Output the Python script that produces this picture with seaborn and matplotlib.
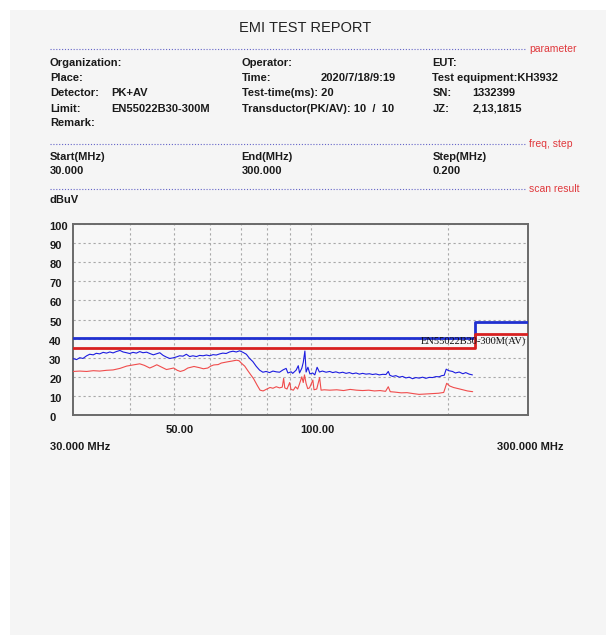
import matplotlib
matplotlib.use("Agg")
import matplotlib.pyplot as plt
import seaborn as sns
import pandas as pd
from matplotlib.patches import Rectangle
from matplotlib.lines import Line2D
from matplotlib.ticker import FixedLocator, NullLocator
from matplotlib.transforms import ScaledTranslation, blended_transform_factory

# ---- scan data (MHz, dBuV) ----
pk_freq = [
    30.0, 30.5, 31.0, 31.5, 32.1, 32.6, 33.2, 33.7, 34.3, 34.9,
    35.5, 36.1, 36.7, 37.3, 38.0, 38.6, 39.3, 39.9, 40.6, 41.3,
    42.0, 42.7, 43.5, 44.2, 45.0, 45.7, 46.5, 47.3, 48.1, 48.9,
    49.7, 50.6, 51.4, 52.3, 53.2, 54.1, 55.0, 56.0, 56.9, 57.9,
    58.9, 59.9, 60.9, 61.9, 63.0, 64.0, 65.1, 66.2, 67.4, 68.5,
    69.7, 70.9, 72.1, 73.3, 74.5, 75.8, 77.1, 78.4, 79.7, 81.1,
    82.5, 83.9, 85.3, 86.8, 88.2, 89.0, 90.5, 91.2, 92.8, 93.8,
    94.4, 95.5, 96.2, 97.0, 97.6, 98.5, 99.5, 100.9, 102.0, 103.2,
    104.4, 106.0, 108.0, 110.0, 111.7, 113.5, 115.5, 117.5, 119.5, 121.5,
    123.6, 125.7, 127.8, 130.0, 132.2, 134.5, 136.7, 139.0, 141.4, 144.0,
    146.3, 148.0, 149.2, 151.3, 153.8, 156.5, 159.1, 161.8, 164.6, 167.4,
    170.2, 173.1, 176.1, 179.1, 182.1, 185.2, 188.4, 191.6, 194.0, 196.5,
    198.5, 201.0, 204.9, 208.0, 212.0, 216.0, 219.2, 223.0, 226.7,
]
pk_level = [
    29.5, 29.0, 30.0, 29.6, 31.0, 31.8, 31.5, 32.3, 32.0, 32.8,
    32.4, 33.0, 32.5, 33.2, 33.8, 33.0, 32.6, 32.2, 32.8, 32.4,
    33.2, 32.6, 32.9, 32.2, 31.5, 32.0, 32.6, 31.2, 30.3, 29.6,
    29.9, 30.4, 31.0, 30.8, 31.8, 30.6, 31.0, 30.6, 31.2, 31.0,
    31.4, 31.0, 31.6, 31.4, 32.0, 32.4, 32.2, 33.0, 33.4, 33.0,
    33.6, 32.8, 31.8, 29.6, 28.0, 25.5, 23.5, 22.4, 22.8, 22.2,
    23.0, 22.6, 22.4, 23.6, 24.4, 22.0, 22.6, 21.8, 23.5, 25.8,
    22.0, 24.5, 27.5, 33.5, 22.5, 25.0, 21.5, 22.0, 21.0, 25.0,
    22.5, 23.0, 22.4, 22.8, 22.2, 22.6, 22.0, 22.4, 21.8, 22.2,
    21.6, 22.0, 21.4, 21.8, 21.4, 21.6, 21.2, 21.5, 21.0, 21.3,
    21.2, 22.8, 20.8, 20.2, 20.6, 19.8, 20.2, 19.4, 19.8, 19.0,
    19.6, 19.3, 19.8, 19.2, 19.7, 19.6, 20.1, 20.0, 20.6, 20.8,
    24.0, 23.2, 22.8, 22.0, 22.5, 21.6, 22.2, 21.4, 21.0,
]

av_freq = [
    30.0, 31.0, 32.1, 33.2, 34.3, 35.5, 36.7, 38.0, 39.3, 40.6,
    42.0, 43.0, 44.2, 45.0, 45.8, 46.8, 48.1, 49.0, 49.9, 50.8,
    51.6, 52.6, 53.6, 55.3, 56.8, 58.0, 59.3, 60.2, 61.1, 62.5,
    63.5, 65.4, 66.9, 68.6, 69.5, 70.4, 71.5, 72.5, 73.4, 74.8,
    76.2, 77.3, 78.5, 79.7, 81.3, 82.5, 83.9, 85.3, 86.5, 87.1,
    87.6, 88.6, 89.8, 90.4, 91.5, 92.5, 93.5, 94.3, 95.5, 96.2,
    96.8, 97.6, 98.4, 99.3, 101.0, 101.6, 103.0, 104.5, 105.3, 107.0,
    110.0, 114.0, 118.0, 122.0, 126.0, 130.0, 134.0, 138.0, 142.0, 146.0,
    148.0, 149.5, 153.0, 158.0, 162.8, 168.0, 173.0, 179.0, 185.0, 191.0,
    196.0, 199.0, 202.0, 206.0, 211.0, 216.0, 221.0, 227.0,
]
av_level = [
    22.8, 23.0, 22.8, 23.2, 23.0, 23.4, 23.6, 24.4, 25.6, 26.2,
    26.8, 26.0, 24.6, 25.4, 26.3, 25.2, 23.8, 24.2, 24.6, 23.4,
    22.8, 23.4, 24.6, 25.4, 24.8, 24.2, 24.6, 25.6, 26.2, 26.4,
    27.2, 27.8, 28.2, 28.7, 28.4, 27.0, 25.6, 23.5, 21.7, 19.0,
    15.5, 13.0, 12.6, 13.4, 14.4, 14.0, 14.8, 14.2, 14.6, 19.2,
    14.2, 13.6, 17.0, 13.4, 13.0, 14.8, 13.6, 16.0, 20.0, 17.0,
    21.0, 16.5, 13.8, 14.2, 18.3, 13.2, 13.6, 19.6, 13.0, 13.2,
    13.0, 13.2, 12.8, 13.4, 13.0, 12.8, 13.0, 12.6, 12.8, 12.4,
    14.8, 12.2, 12.0, 11.6, 11.7, 11.2, 10.8, 11.0, 11.2, 11.4,
    11.8, 16.6, 15.2, 14.4, 13.8, 13.2, 12.6, 12.2,
]

# limit lines (step at 230 MHz)
limit_freq = [30.0, 230.0, 300.0]
pk_limit = [40.5, 48.5, 48.5]
av_limit = [35.3, 42.5, 42.5]
limit_name = "EN55022B30-300M(AV)"

y_ticks = [0, 10, 20, 30, 40, 50, 60, 70, 80, 90, 100]
x_grid = [40, 50, 60, 70, 80, 90, 100, 200]
x_labels = ["", "50.00", "", "", "", "", "100.00", ""]

# ---- report header fields ----
header_rows = [
    ("Organization:", "", "Operator:", "", "EUT:", ""),
    ("Place:", "", "Time:", "2020/7/18/9:19", "Test equipment:KH3932", ""),
    ("Detector:", "PK+AV", "Test-time(ms): 20", "", "SN:", "1332399"),
    ("Limit:", "EN55022B30-300M", "Transductor(PK/AV): 10  /  10", "", "JZ:", "2,13,1815"),
    ("Remark:", "", "", "", "", ""),
]
freq_heads = ["Start(MHz)", "End(MHz)", "Step(MHz)"]
freq_values = ["30.000", "300.000", "0.200"]

sns.set_theme(style="white")
plt.rcParams["font.family"] = ["Liberation Sans", "DejaVu Sans"]

W, H = 606, 635
fig = plt.figure(figsize=(W / 100, H / 100), dpi=100)
fig.patch.set_facecolor("white")


def fx(x):
    return x / W


def fy(y):
    return 1 - y / H


# light report panel, kept behind everything
fig.patches.append(Rectangle((fx(10), 0), 1 - fx(10), fy(10), transform=fig.transFigure,
                             facecolor="#f5f5f5", edgecolor="none", zorder=-5))

fig.text(fx(305), fy(28.5), "EMI TEST REPORT", ha="center", va="center",
         fontsize=10.5, color="#222222")

BOLD = dict(fontsize=8, fontweight="bold", color="#1a1a1a", va="center")
SEP_COLOR = "#6464c8"
RED = "#e0383c"


def separator(y, label):
    fig.add_artist(Line2D([fx(50), fx(525)], [fy(y), fy(y)], transform=fig.transFigure,
                          color=SEP_COLOR, lw=0.8, linestyle=(0, (1, 1.6))))
    fig.text(fx(529), fy(y), label, ha="left", va="center", fontsize=7.5, color=RED)


separator(49, "parameter")
row_y = [63, 78, 93.5, 108.5, 123.5]
col_x = [50, 111.7, 241.7, 320.7, 432.3, 472.3]
for yy, row in zip(row_y, header_rows):
    for xx, txt in zip(col_x, row):
        if txt:
            fig.text(fx(xx), fy(yy), txt, ha="left", **BOLD)

separator(144, "freq, step")
for xx, head, val in zip([50, 241.7, 432.3], freq_heads, freq_values):
    fig.text(fx(xx), fy(157), head, ha="left", **BOLD)
    fig.text(fx(xx), fy(171), val, ha="left", **BOLD)

separator(188.5, "scan result")
fig.text(fx(50), fy(200), "dBuV", ha="left", **BOLD)

# ---- scan plot ----
ax = fig.add_axes([fx(73.3), fy(415), (527.7 - 73.3) / W, (415 - 224) / H])
ax.set_zorder(2)
ax.set_facecolor("#f7f7f7")

pk_df = pd.DataFrame({"freq": pk_freq, "level": pk_level})
av_df = pd.DataFrame({"freq": av_freq, "level": av_level})
lim_df = pd.DataFrame({"freq": limit_freq, "pk": pk_limit, "av": av_limit})

sns.lineplot(data=pk_df, x="freq", y="level", ax=ax, color="#1c1ce0", lw=0.8,
             estimator=None, sort=False, legend=False, zorder=3)
sns.lineplot(data=av_df, x="freq", y="level", ax=ax, color="#f04c4c", lw=0.8,
             estimator=None, sort=False, legend=False, zorder=3)
sns.lineplot(data=lim_df, x="freq", y="pk", ax=ax, color="#2030d0", lw=2.0,
             drawstyle="steps-post", estimator=None, sort=False, legend=False, zorder=4)
sns.lineplot(data=lim_df, x="freq", y="av", ax=ax, color="#d82020", lw=2.0,
             drawstyle="steps-post", estimator=None, sort=False, legend=False, zorder=4)

ax.set_xscale("log")
ax.set_xlim(30, 300)
ax.set_ylim(0, 100)
ax.set_xlabel("")
ax.set_ylabel("")

ax.yaxis.set_major_locator(FixedLocator(y_ticks))
ax.set_yticklabels([str(v) for v in y_ticks], fontsize=8, fontweight="bold", color="#1a1a1a")
ax.tick_params(axis="y", length=0, pad=17.3)
drop = ScaledTranslation(0, -2 / 100, fig.dpi_scale_trans)
for lbl in ax.get_yticklabels():
    lbl.set_ha("left")
    lbl.set_transform(lbl.get_transform() + drop)

ax.xaxis.set_major_locator(FixedLocator(x_grid))
ax.xaxis.set_minor_locator(NullLocator())
ax.set_xticklabels(x_labels, fontsize=8, fontweight="bold", color="#1a1a1a")
ax.tick_params(axis="x", length=0, pad=7)
shift = ScaledTranslation(6 / 100, 0, fig.dpi_scale_trans)
for lbl in ax.get_xticklabels():
    lbl.set_transform(lbl.get_transform() + shift)

ax.grid(True, color="#a8a8a8", lw=0.8, linestyle=(0, (2, 2.5)))
for sp in ax.spines.values():
    sp.set_color("#6a6a6a")
    sp.set_linewidth(1.4)
    sp.set_visible(True)

# limit line caption
tr = blended_transform_factory(ax.transAxes, ax.transData)
ax.text(0.996, 38.9, limit_name, transform=tr, ha="right", va="center",
        fontsize=7.5, family="Liberation Serif", color="#101010", zorder=5)

fig.text(fx(49.5), fy(447), "30.000 MHz", ha="left", **BOLD)
fig.text(fx(496.7), fy(447), "300.000 MHz", ha="left", **BOLD)

fig.savefig("out.png", dpi=100, facecolor=fig.get_facecolor())
